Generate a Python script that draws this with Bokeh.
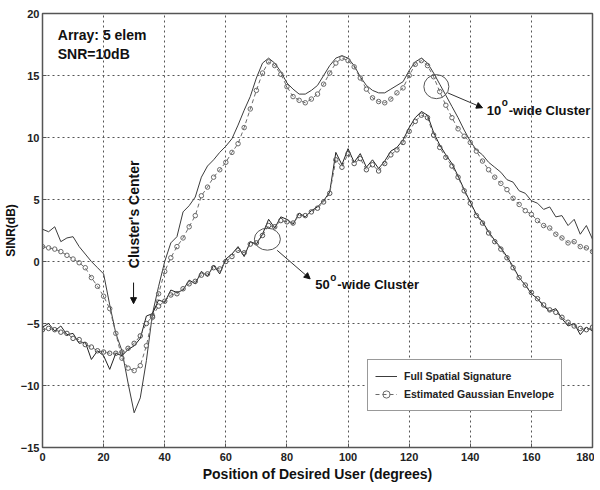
import math
from bokeh.plotting import figure
from bokeh.models import Label, Arrow, NormalHead, Legend, LegendItem, FixedTicker
from bokeh.embed import file_html
from bokeh.resources import INLINE

# ---------------- data ----------------
pos = list(range(0, 181, 2))

full_10 = [2.6, 2.4, 2.8, 1.6, 1.9, 2.0, 1.2, 0.6, 0.0, -0.5,
           -1.0, -3.5, -5.8, -7.2, -9.8, -12.2, -11.0, -8.0, -4.2, -2.0,
           0.0, 1.5, 2.0, 4.0, 4.5, 5.2, 6.8, 7.7, 8.2, 8.8,
           9.3, 9.9, 11.0, 12.2, 13.3, 14.8, 16.0, 16.4, 16.0, 15.3,
           14.4, 13.9, 13.5, 13.5, 13.8, 14.2, 15.0, 15.8, 16.4, 16.6,
           16.4, 15.8, 14.9, 14.2, 13.8, 13.6, 13.6, 13.9, 14.2, 14.5,
           15.4, 16.1, 16.4, 16.0, 15.2, 14.3, 13.4, 12.5, 11.6, 10.6,
           9.7, 9.0, 8.6, 8.0, 7.6, 7.2, 6.6, 6.4, 5.7, 5.5,
           4.9, 4.7, 4.2, 4.4, 3.6, 3.7, 2.9, 3.4, 2.2, 2.9, 1.8]

est_10 = [1.2, 1.1, 1.0, 0.8, 0.5, 0.2, -0.1, -0.5, -1.3, -2.0,
          -2.8, -3.8, -5.8, -7.8, -8.6, -8.8, -8.4, -6.8, -4.5, -2.6,
          -0.8, 0.3, 1.2, 1.9, 2.8, 3.7, 5.3, 6.0, 6.8, 7.4,
          8.0, 8.8, 9.5, 10.8, 12.3, 13.8, 15.2, 16.1, 15.8, 15.1,
          14.1, 13.3, 13.0, 12.8, 13.1, 13.5, 14.3, 15.2, 16.0, 16.4,
          16.2, 15.7, 14.8, 13.9, 13.2, 12.9, 12.8, 13.1, 13.6, 14.0,
          15.0, 15.9, 16.2, 15.8, 14.9, 13.7, 12.6, 11.6, 10.7, 10.1,
          9.6, 8.9, 8.1, 7.4, 6.8, 6.3, 5.8, 5.1, 4.6, 4.1,
          3.8, 3.3, 2.9, 2.7, 2.2, 1.9, 1.5, 1.6, 1.2, 1.1, 0.8]

full_50 = [-5.3, -5.0, -5.6, -5.2, -5.9, -5.8, -6.6, -6.5, -7.9, -7.2,
           -7.6, -8.7, -7.4, -7.6, -7.1, -6.8, -6.2, -4.4, -4.2, -3.1,
           -3.3, -2.3, -2.5, -2.3, -1.5, -1.8, -0.8, -1.2, -0.3, -1.0,
           0.2, 0.6, 1.2, 0.4, 1.6, 1.4, 2.2, 3.4, 2.7, 3.6,
           3.4, 3.0, 3.9, 3.6, 4.1, 4.4, 4.9, 5.6, 8.8, 7.8,
           9.1, 8.0, 8.7, 7.6, 8.2, 7.5, 8.1, 8.9, 9.2, 9.8,
           10.8, 11.6, 12.1, 11.8, 10.4, 9.4, 8.6, 7.9, 6.9, 5.8,
           4.8, 3.8, 3.2, 2.4, 1.7, 1.1, 0.4, -0.4, -1.3, -1.9,
           -2.6, -3.0, -3.6, -4.0, -3.8, -4.6, -5.2, -5.0, -5.9, -5.3, -5.6]

est_50 = [-5.5, -5.4, -5.5, -5.7, -5.8, -6.2, -6.3, -6.7, -6.9, -7.2,
          -7.3, -7.4, -7.4, -7.3, -7.0, -6.6, -6.0, -5.0, -4.4, -3.6,
          -3.2, -2.7, -2.6, -2.2, -1.8, -1.6, -1.1, -1.0, -0.5, -0.6,
          0.0, 0.4, 0.9, 0.7, 1.4, 1.5, 2.1, 2.9, 2.8, 3.3,
          3.2, 3.1, 3.7, 3.7, 4.0, 4.3, 4.8, 5.5, 8.2, 7.6,
          8.7, 7.9, 8.3, 7.4, 7.8, 7.3, 7.9, 8.6, 9.0, 9.6,
          10.5, 11.3, 11.8, 11.6, 10.2, 9.2, 8.4, 7.7, 6.8, 5.7,
          4.7, 3.7, 3.1, 2.3, 1.6, 1.0, 0.3, -0.5, -1.3, -1.9,
          -2.5, -3.0, -3.5, -3.9, -4.1, -4.5, -4.9, -5.2, -5.4, -5.5, -5.3]

x_ticks = [0, 20, 40, 60, 80, 100, 120, 140, 160, 180]
y_ticks = [-15, -10, -5, 0, 5, 10, 15, 20]

FONT = "Liberation Sans"
FULL_COLOR = "#3c3c3c"
EST_COLOR = "#6a6a6a"

# ---------------- figure ----------------
p = figure(width=594, height=484, output_backend="svg", toolbar_location=None,
           x_range=(0, 180), y_range=(-15, 20),
           min_border_left=42, min_border_right=2, min_border_top=13, min_border_bottom=30)

p.background_fill_color = "white"
p.border_fill_color = "white"
p.outline_line_color = "#555555"
p.outline_line_width = 1.5

for ax in (p.xaxis[0], p.yaxis[0]):
    ax.major_label_text_font = FONT
    ax.major_label_text_font_style = "bold"
    ax.major_label_text_font_size = "11px"
    ax.major_label_text_color = "#222222"
    ax.axis_label_text_font = FONT
    ax.axis_label_text_font_style = "bold"
    ax.axis_label_text_color = "#111111"
    ax.axis_line_color = None
    ax.major_tick_in = 4
    ax.major_tick_out = 0
    ax.minor_tick_line_color = None
    ax.major_tick_line_color = "#555555"

p.xaxis.ticker = FixedTicker(ticks=x_ticks)
p.yaxis.ticker = FixedTicker(ticks=y_ticks)
p.xaxis.axis_label = "Position of Desired User (degrees)"
p.yaxis.axis_label = "SINR(dB)"
p.xaxis.axis_label_text_font_size = "14px"
p.yaxis.axis_label_text_font_size = "12px"
p.xaxis.major_label_standoff = 5
p.yaxis.major_label_standoff = 3
p.xaxis.axis_label_standoff = 2
p.yaxis.axis_label_standoff = 0

p.grid.grid_line_color = "#555555"
p.grid.grid_line_dash = "2 3"
p.grid.grid_line_width = 1

# ---------------- curves ----------------
r_full10 = p.line(pos, full_10, line_color=FULL_COLOR, line_width=1)
r_est10 = p.line(pos, est_10, line_color=EST_COLOR, line_width=1, line_dash="4 3")
r_est10m = p.scatter(pos, est_10, marker="circle", size=4.5, line_color=EST_COLOR,
                     fill_alpha=0, line_width=1)

r_full50 = p.line(pos, full_50, line_color="#222222", line_width=1)
r_est50 = p.line(pos, est_50, line_color=EST_COLOR, line_width=1, line_dash="4 3")
r_est50m = p.scatter(pos, est_50, marker="circle", size=4.5, line_color="#555555",
                     fill_alpha=0, line_width=1)

# ---------------- annotations ----------------
def lbl(x, y, text, size="14px", **kw):
    l = Label(x=x, y=y, text=text, text_font=FONT, text_font_style="bold",
              text_font_size=size, text_color="#111111", **kw)
    p.add_layout(l)
    return l

lbl(5.0, 18.9, "Array: 5 elem", size="14px", text_baseline="top")
lbl(5.0, 17.4, "SNR=10dB", size="14px", text_baseline="top")

lbl(29.8, 3.8, "Cluster's Center", size="14px", angle=math.pi / 2,
    text_align="center", text_baseline="middle")
p.add_layout(Arrow(x_start=29.8, y_start=-1.7, x_end=29.8, y_end=-3.4,
                   line_color="#111111", line_width=1,
                   end=NormalHead(size=6, fill_color="#111111", line_color="#111111")))

# 10 deg cluster marker
p.ellipse(x=[128.9], y=[14.1], width=25, height=24, width_units="screen",
          height_units="screen", fill_alpha=0, line_color="#555555", line_width=1)
p.add_layout(Arrow(x_start=132.6, y_start=13.6, x_end=144.0, y_end=12.4,
                   line_color="#333333", line_width=1,
                   end=NormalHead(size=6, fill_color="#111111", line_color="#111111")))
lbl(145.4, 12.2, "10", size="13px", text_baseline="middle")
lbl(145.4, 12.8, "o", size="10px", text_baseline="middle", x_offset=15)
lbl(145.4, 12.2, "-wide Cluster", size="13px", text_baseline="middle", x_offset=22)

# 50 deg cluster marker
p.ellipse(x=[73.6], y=[1.8], width=26, height=22, width_units="screen",
          height_units="screen", fill_alpha=0, line_color="#555555", line_width=1)
p.add_layout(Arrow(x_start=76.8, y_start=0.9, x_end=87.6, y_end=-1.4,
                   line_color="#333333", line_width=1,
                   end=NormalHead(size=6, fill_color="#111111", line_color="#111111")))
lbl(89.3, -1.85, "50", size="13px", text_baseline="middle")
lbl(89.3, -1.25, "o", size="10px", text_baseline="middle", x_offset=15)
lbl(89.3, -1.85, "-wide Cluster", size="13px", text_baseline="middle", x_offset=22)

# ---------------- legend ----------------
legend = Legend(items=[
    LegendItem(label="Full Spatial Signature", renderers=[r_full10]),
    LegendItem(label="Estimated Gaussian Envelope", renderers=[r_est10, r_est10m]),
], location=(325, 36))
legend.label_text_font = FONT
legend.label_text_font_style = "bold"
legend.label_text_font_size = "10.5px"
legend.label_text_color = "#222222"
legend.glyph_width = 22
legend.glyph_height = 18
legend.label_height = 18
legend.label_standoff = 7
legend.spacing = 0
legend.padding = 7
legend.margin = 0
legend.border_line_color = "#333333"
legend.border_line_width = 1
legend.background_fill_color = "white"
legend.background_fill_alpha = 1
p.add_layout(legend, "center")

open("out.html", "w").write(file_html(p, INLINE))
